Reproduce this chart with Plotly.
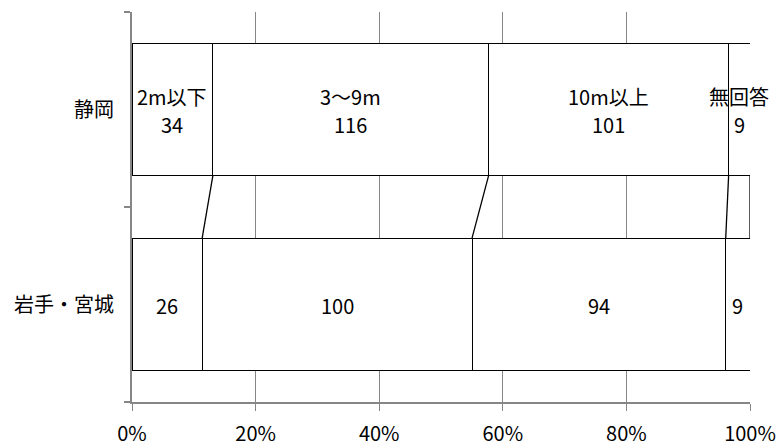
import plotly.graph_objects as go

categories = ["岩手・宮城", "静岡"]  # bottom to top
series_names = ["2m以下", "3〜9m", "10m以上", "無回答"]
values_shizuoka = [34, 116, 101, 9]
values_iwate = [26, 100, 94, 9]
x_tick_vals = [0, 20, 40, 60, 80, 100]
x_tick_text = ["0%", "20%", "40%", "60%", "80%", "100%"]

FONT = "Noto Sans CJK JP"
GRAY = "#868686"
BAR_W = 0.68
FS = 20

data_by_cat = {"岩手・宮城": values_iwate, "静岡": values_shizuoka}

fig = go.Figure()
for i, name in enumerate(series_names):
    fig.add_trace(go.Bar(
        y=categories,
        x=[data_by_cat[c][i] for c in categories],
        name=name,
        orientation="h",
        marker=dict(color="white", line=dict(color="black", width=1)),
        width=BAR_W,
        hoverinfo="skip",
    ))

def pct(vals):
    tot = sum(vals)
    return [v / tot * 100 for v in vals]

annotations = []
shapes = []
p_top = pct(values_shizuoka)
p_bot = pct(values_iwate)
cum_t = 0
cum_b = 0
for i, name in enumerate(series_names):
    ct = cum_t + p_top[i] / 2
    cb = cum_b + p_bot[i] / 2
    annotations.append(dict(x=ct, y=1, xref="x", yref="y", text=name, showarrow=False,
                            yshift=13, font=dict(family=FONT, size=FS, color="black")))
    annotations.append(dict(x=ct, y=1, xref="x", yref="y", text=str(values_shizuoka[i]), showarrow=False,
                            yshift=-15, font=dict(family=FONT, size=FS, color="black")))
    annotations.append(dict(x=cb, y=0, xref="x", yref="y", text=str(values_iwate[i]), showarrow=False,
                            yshift=-1, font=dict(family=FONT, size=FS, color="black")))
    cum_t += p_top[i]
    cum_b += p_bot[i]
    shapes.append(dict(type="line", xref="x", yref="y", x0=cum_t, y0=1 - BAR_W / 2,
                       x1=cum_b, y1=BAR_W / 2, line=dict(color="black", width=1.3)))

fig.update_layout(
    width=778, height=448,
    margin=dict(l=132, r=28, t=12, b=46),
    barmode="stack", barnorm="percent",
    plot_bgcolor="white", paper_bgcolor="white",
    showlegend=False,
    annotations=annotations,
    shapes=shapes,
    xaxis=dict(range=[0, 100], tickvals=x_tick_vals, ticktext=x_tick_text,
               automargin=False,
               showgrid=True, gridcolor=GRAY, gridwidth=1,
               showline=True, linecolor=GRAY, linewidth=1.5,
               ticks="outside", ticklen=7, tickcolor=GRAY, tickwidth=1,
               ticklabelstandoff=6,
               tickfont=dict(family=FONT, size=FS, color="black"),
               zeroline=False, fixedrange=True),
    yaxis=dict(type="category", categoryorder="array", categoryarray=categories,
               automargin=False,
               showgrid=False, showline=True, linecolor=GRAY, linewidth=2,
               ticks="outside", ticklen=6, tickcolor=GRAY, tickwidth=1.5,
               tickson="boundaries", ticklabelstandoff=12,
               tickfont=dict(family=FONT, size=FS, color="black"),
               range=[-0.5, 1.5], fixedrange=True),
)

fig.write_html("out.html", config={"displayModeBar": False},
               post_script="document.body.style.margin='0px';document.body.style.overflow='hidden';")
